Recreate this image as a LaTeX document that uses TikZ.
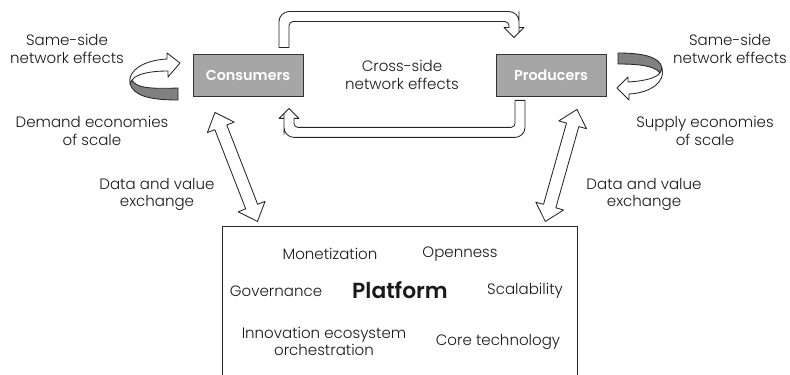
\documentclass[tikz,border=0pt]{standalone}
\usepackage{fontspec}
\setmainfont{Poppins}[UprightFont={* Light}, BoldFont={* SemiBold}]
\usetikzlibrary{calc}

\begin{document}
\begin{tikzpicture}[
  every node/.style={font=\fontsize{10.7pt}{12.5pt}\selectfont, align=center, inner sep=0pt, text=black!90},
  side/.style={draw=black!80, fill=black!35, line width=0.6pt, minimum width=2.75cm, minimum height=1.05cm, text=white, font=\fontsize{10.2pt}{12pt}\selectfont\bfseries},
  hollow/.style={draw=black!85, fill=white, line width=0.6pt, line join=round},
  ribbon/.style={draw=black!85, fill=black!50, line width=0.6pt, line join=round}
]
\useasboundingbox (0, 0) rectangle (19.75, 9.35);
\fill [color=white] (0, 0) rectangle (19.75, 9.35);

% the two sides and the platform
\node [side] (cons) at (6.2, 7.475) {Consumers};
\node [side] (prod) at (13.775, 7.475) {Producers};
\node [draw=black!85, line width=0.6pt, minimum width=8.875cm, minimum height=3.975cm] (plat) at (10.01, 1.69) {};

% labels
\node (samel) at (1.675, 8.125) {Same-side\\network effects};
\node (demand) at (2.3, 6.075) {Demand economies\\of scale};
\node (cross) at (10.05, 7.475) {Cross-side\\network effects};
\node (samer) at (18.25, 8.125) {Same-side\\network effects};
\node (supply) at (17.625, 6.075) {Supply economies\\of scale};
\node (datal) at (3.925, 4.49) {Data and value\\exchange};
\node (datar) at (16.1, 4.49) {Data and value\\exchange};
\node (monet) at (8.25, 3.0) {Monetization};
\node (open) at (11.5, 3.0) {Openness};
\node (gov) at (6.9, 2.075) {Governance};
\node (platname) at (10.0, 2.1) [font=\fontsize{15.5pt}{18pt}\selectfont\bfseries] {Platform};
\node (scal) at (13.125, 2.075) {Scalability};
\node (innov) at (8.1, 0.81) {Innovation ecosystem\\orchestration};
\node (core) at (12.45, 0.8) {Core technology};

% cross-side arrows
\coordinate (c2p) at ($(cons.north)+(0.9,0.15)$);
\coordinate (c2pend) at ($(prod.north)+(-0.925,0.4)$);
\coordinate (p2c) at ($(prod.south)+(-0.775,-0.1)$);
\coordinate (p2cend) at ($(cons.south)+(1.025,-0.3)$);
\draw [hollow] ($(c2p)+(-0.125,0)$) -- ($(c2p)+(-0.125,0.3)$) [rounded corners=0.25cm] -- ($(c2p)+(-0.125,0.9)$) -| ($(c2pend)+(0.125,0.4)$) [sharp corners] -- ($(c2pend)+(0.125,0.25)$) -- ($(c2pend)+(0.25,0.25)$) -- (c2pend) -- ($(c2pend)+(-0.25,0.25)$) -- ($(c2pend)+(-0.125,0.25)$) -- ($(c2pend)+(-0.125,0.3)$) [rounded corners=0.1cm] |- ($(c2p)+(0.125,0.65)$) -- ($(c2p)+(0.125,0.3)$) [sharp corners] -- ($(c2p)+(0.125,0)$) -- cycle;
\draw [hollow] ($(p2c)+(0.125,0)$) -- ($(p2c)+(0.125,-0.3)$) [rounded corners=0.25cm] -- ($(p2c)+(0.125,-0.925)$) -| ($(p2cend)+(-0.125,-0.4)$) [sharp corners] -- ($(p2cend)+(-0.125,-0.25)$) -- ($(p2cend)+(-0.25,-0.25)$) -- (p2cend) -- ($(p2cend)+(0.25,-0.25)$) -- ($(p2cend)+(0.125,-0.25)$) -- ($(p2cend)+(0.125,-0.3)$) [rounded corners=0.1cm] |- ($(p2c)+(-0.125,-0.675)$) -- ($(p2c)+(-0.125,-0.3)$) [sharp corners] -- ($(p2c)+(-0.125,0)$) -- cycle;

% same-side loops
\draw [ribbon] (3.3, 7.35) .. controls (3.4, 7.15) and (3.75, 7.125) .. (4.45, 7.15) -- (4.45, 6.85) .. controls (3.75, 6.85) and (3.35, 6.95) .. (3.25, 7.25) -- cycle;
\draw [hollow] (3.25, 7.25) .. controls (3.175, 7.6) and (3.625, 7.85) .. (4.175, 7.875) -- (4.175, 8.025) -- (4.5, 7.775) -- (4.2, 7.425) -- (4.2, 7.575) .. controls (3.75, 7.575) and (3.4, 7.5) .. (3.3, 7.35) -- cycle;
\draw [ribbon] (15.45, 8.025) .. controls (16.0, 8.025) and (16.5, 7.95) .. (16.55, 7.65) -- (16.5, 7.525) .. controls (16.375, 7.7) and (16.0, 7.75) .. (15.45, 7.75) -- cycle;
\draw [hollow] (16.55, 7.65) .. controls (16.65, 7.3) and (16.25, 7.025) .. (15.725, 7.0) -- (15.725, 6.85) -- (15.425, 7.15) -- (15.7, 7.425) -- (15.7, 7.3) .. controls (16.125, 7.325) and (16.4, 7.4) .. (16.5, 7.525) -- cycle;

% data and value exchange
\coordinate (dl1) at ($(cons.south)+(-0.825,-0.4)$);
\coordinate (dl2) at ($(plat.north west)+(0.875,0.125)$);
\coordinate (dr1) at ($(prod.south)+(0.65,-0.325)$);
\coordinate (dr2) at ($(plat.north east)+(-0.825,0.125)$);
\draw [hollow] (dl1) -- ($(dl1)!0.4cm!(dl2)!0.36cm!90:(dl2)$) -- ($(dl1)!0.4cm!(dl2)!0.16cm!90:(dl2)$) -- ($(dl2)!0.4cm!(dl1)!0.16cm!-90:(dl1)$) -- ($(dl2)!0.4cm!(dl1)!0.36cm!-90:(dl1)$) -- (dl2) -- ($(dl2)!0.4cm!(dl1)!0.36cm!90:(dl1)$) -- ($(dl2)!0.4cm!(dl1)!0.16cm!90:(dl1)$) -- ($(dl1)!0.4cm!(dl2)!0.16cm!-90:(dl2)$) -- ($(dl1)!0.4cm!(dl2)!0.36cm!-90:(dl2)$) -- cycle;
\draw [hollow] (dr1) -- ($(dr1)!0.4cm!(dr2)!0.36cm!90:(dr2)$) -- ($(dr1)!0.4cm!(dr2)!0.16cm!90:(dr2)$) -- ($(dr2)!0.4cm!(dr1)!0.16cm!-90:(dr1)$) -- ($(dr2)!0.4cm!(dr1)!0.36cm!-90:(dr1)$) -- (dr2) -- ($(dr2)!0.4cm!(dr1)!0.36cm!90:(dr1)$) -- ($(dr2)!0.4cm!(dr1)!0.16cm!90:(dr1)$) -- ($(dr1)!0.4cm!(dr2)!0.16cm!-90:(dr2)$) -- ($(dr1)!0.4cm!(dr2)!0.36cm!-90:(dr2)$) -- cycle;
\end{tikzpicture}
\end{document}
